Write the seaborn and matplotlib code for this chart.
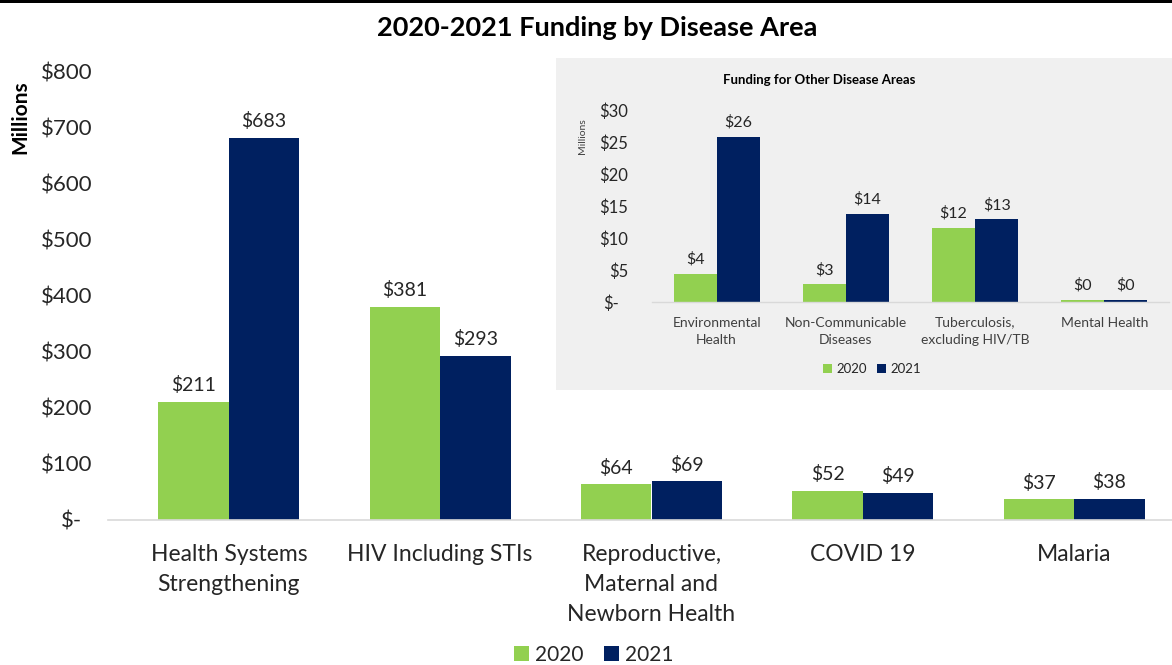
import matplotlib
matplotlib.use("Agg")
import matplotlib.pyplot as plt
from matplotlib.patches import Rectangle, Patch
from matplotlib.transforms import ScaledTranslation
import seaborn as sns
import pandas as pd

# ---- data (USD, millions) ----
years = ["2020", "2021"]

main_areas = [
    "Health Systems\nStrengthening",
    "HIV Including STIs",
    "Reproductive,\nMaternal and\nNewborn Health",
    "COVID 19",
    "Malaria",
]
main_2020 = [211, 381, 64, 52, 37]
main_2021 = [683, 293, 69, 49, 38]

other_areas = [
    "Environmental\nHealth",
    "Non-Communicable\nDiseases",
    "Tuberculosis,\nexcluding HIV/TB",
    "Mental Health",
]
other_2020 = [4.4, 2.8, 11.6, 0.35]
other_2021 = [25.8, 13.8, 12.9, 0.35]

main_ticks = [0, 100, 200, 300, 400, 500, 600, 700, 800]
other_ticks = [0, 5, 10, 15, 20, 25, 30]

GREEN = "#92D050"
NAVY = "#002060"
TEXT = "#262626"
palette = {"2020": GREEN, "2021": NAVY}


def long_form(areas, v2020, v2021):
    rows = []
    for a, x, y in zip(areas, v2020, v2021):
        rows.append({"area": a, "year": "2020", "value": x})
        rows.append({"area": a, "year": "2021", "value": y})
    return pd.DataFrame(rows)


def money(v):
    return "$-" if v == 0 else f"${v:,.0f}"


df_main = long_form(main_areas, main_2020, main_2021)
df_other = long_form(other_areas, other_2020, other_2021)

sns.set_theme(style="white")
plt.rcParams["font.family"] = ["Lato", "DejaVu Sans"]
plt.rcParams["text.color"] = TEXT
plt.rcParams["axes.labelcolor"] = TEXT
plt.rcParams["xtick.color"] = TEXT
plt.rcParams["ytick.color"] = TEXT

W, H = 1172, 665
fig = plt.figure(figsize=(W / 100, H / 100), dpi=100)
fig.patch.set_facecolor("white")


def px_box(x0, y0, x1, y1):
    """Figure-fraction rect from pixel corners (top-left origin)."""
    return [x0 / W, 1 - y1 / H, (x1 - x0) / W, (y1 - y0) / H]


# ---- main chart ----
ax = fig.add_axes(px_box(108, 72, 1195, 520))
ax.set_facecolor("none")
sns.barplot(data=df_main, x="area", y="value", hue="year", palette=palette,
            width=0.667, linewidth=0, saturation=1, legend=False, ax=ax)
ax.set_xlim(-0.572, 4.572)
ax.set_ylim(0, 800)
ax.set_yticks(main_ticks)
ax.set_yticklabels([money(t) for t in main_ticks], fontsize=16)
ax.tick_params(axis="y", length=0, pad=11)
ax.tick_params(axis="x", length=0, pad=17.5, labelsize=16.5)
for lbl in ax.get_xticklabels():
    lbl.set_linespacing(1.53)
ax.set_xlabel("")
ax.set_ylabel("")
for s in ["top", "right", "left"]:
    ax.spines[s].set_visible(False)
ax.spines["bottom"].set_color("#D9D9D9")
ax.spines["bottom"].set_linewidth(1.2)
for cont in ax.containers:
    ax.bar_label(cont, fmt="${:,.0f}", padding=5.5, fontsize=14, color=TEXT)

# "$-" sits left of the other tick labels (accounting format padding)
zero_lbl = ax.get_yticklabels()[0]
zero_lbl.set_transform(zero_lbl.get_transform()
                       + ScaledTranslation(-11 / 100, 0, fig.dpi_scale_trans))

fig.text(20 / W, 1 - 117 / H, "Millions", rotation=90, ha="center",
         va="center", fontsize=15, fontweight="bold", color="black")
fig.text(597 / W, 1 - 28 / H, "2020-2021 Funding by Disease Area",
         ha="center", va="center", fontsize=19.5, fontweight="bold",
         color="black")

handles = [Patch(facecolor=palette[y], edgecolor="none", label=y) for y in years]
fig.legend(handles=handles, loc="center", bbox_to_anchor=(594 / W, 1 - 655 / H),
           ncol=2, frameon=False, fontsize=15, handlelength=0.7,
           handleheight=0.7, handletextpad=0.3, columnspacing=1.0)

# ---- inset panel ----
panel = Rectangle((556 / W, 1 - 390 / H), (W - 556) / W, 332 / H,
                  transform=fig.transFigure, facecolor="#F0F0F0",
                  edgecolor="none", zorder=0.5)
fig.patches.append(panel)

ax2 = fig.add_axes(px_box(652, 110, 1169, 302))
ax2.set_zorder(1)
ax2.set_facecolor("none")
sns.barplot(data=df_other, x="area", y="value", hue="year", palette=palette,
            width=0.667, linewidth=0, saturation=1, legend=False, ax=ax2)
ax2.set_xlim(-0.5, 3.5)
ax2.set_ylim(0, 30)
ax2.set_yticks(other_ticks)
ax2.set_yticklabels([money(t) for t in other_ticks], fontsize=12)
ax2.tick_params(axis="y", length=0, pad=17)
ax2.tick_params(axis="x", length=0, pad=10.5, labelsize=10)
for lbl in ax2.get_xticklabels():
    lbl.set_linespacing(1.55)
    lbl.set_color("#404040")
ax2.set_xlabel("")
ax2.set_ylabel("")
for s in ["top", "right", "left"]:
    ax2.spines[s].set_visible(False)
ax2.spines["bottom"].set_color("#D9D9D9")
ax2.spines["bottom"].set_linewidth(1.0)
for cont in ax2.containers:
    ax2.bar_label(cont, fmt="${:,.0f}", padding=5, fontsize=11.5, color=TEXT)

zero_lbl2 = ax2.get_yticklabels()[0]
zero_lbl2.set_transform(zero_lbl2.get_transform()
                        + ScaledTranslation(-9 / 100, 0, fig.dpi_scale_trans))

fig.text(583 / W, 1 - 136 / H, "Millions", rotation=90, ha="center",
         va="center", fontsize=7.5, color="#404040")
fig.text(819 / W, 1 - 80 / H, "Funding for Other Disease Areas",
         ha="center", va="center", fontsize=9.5, fontweight="bold",
         color="black")
leg2 = fig.legend(handles=handles, loc="center",
                  bbox_to_anchor=(872 / W, 1 - 369 / H), ncol=2,
                  frameon=False, fontsize=9.5, handlelength=0.7,
                  handleheight=0.7, handletextpad=0.3, columnspacing=0.8)
leg2.set_zorder(2)

# black rule across the top edge
fig.patches.append(Rectangle((0, 1 - 3 / H), 1, 3 / H, transform=fig.transFigure,
                             facecolor="black", edgecolor="none", zorder=3))

fig.savefig("out.png", dpi=100)
